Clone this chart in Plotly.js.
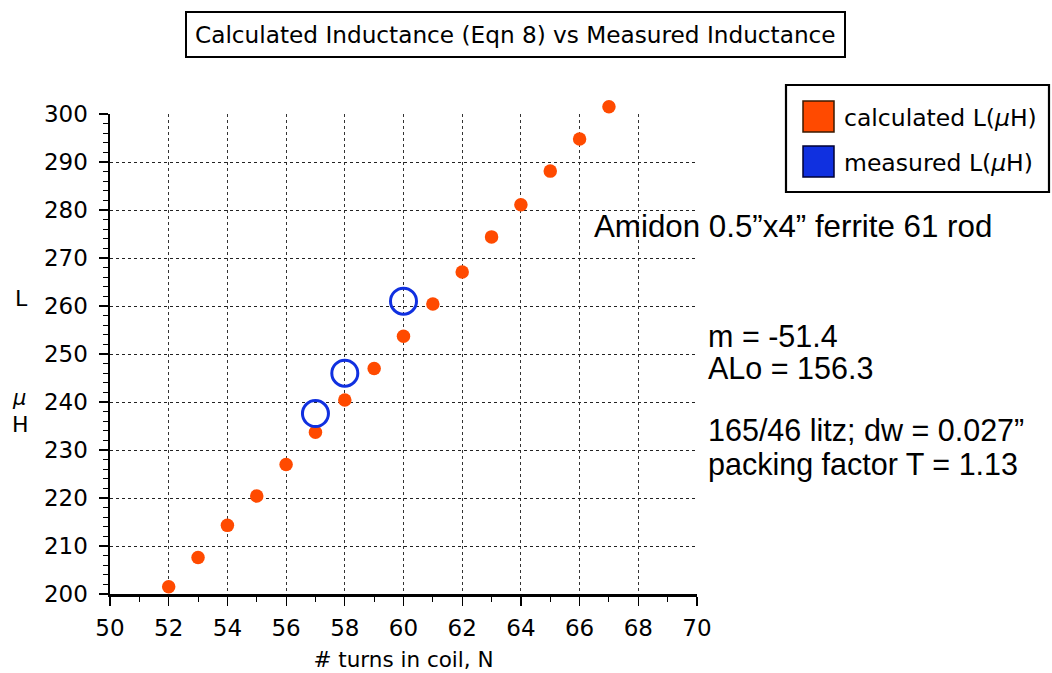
<!DOCTYPE html>
<html>
<head>
<meta charset="utf-8">
<script src="https://cdn.plot.ly/plotly-3.0.1.min.js"></script>
<style>html,body{margin:0;padding:0;background:#fff;}#chart{width:1052px;height:673px;}</style>
</head>
<body>
<div id="chart"></div>
<script>
// Data
const turns = [52,53,54,55,56,57,58,59,60,61,62,63,64,65,66,67];
const calcL = [201.5,207.6,214.3,220.4,227.0,233.7,240.4,247.0,253.7,260.4,267.1,274.4,281.1,288.1,294.8,301.5];
const measTurns = [57,58,60];
const measL = [237.6,246.0,261.0];
const xTicks = [50,52,54,56,58,60,62,64,66,68,70];
const yTicks = [200,210,220,230,240,250,260,270,280,290,300];
const legendLabels = ['calculated L(<i>μ</i>H)','measured L(<i>μ</i>H)'];
const titleText = 'Calculated Inductance (Eqn 8) vs Measured Inductance';
const noteLines = ['Amidon 0.5”x4” ferrite 61 rod','m = -51.4','ALo = 156.3','165/46 litz; dw = 0.027”','packing factor T = 1.13'];

const ORANGE = '#FF4A00';
const BLUE = '#1030E0';
const W = 1052, H = 673;
// plot frame: x 110..697, y(200)=594, y(300)=114; extra headroom above 300 for the top marker
const M = {l:110, r:355, t:84, b:79};
const PW = W - M.l - M.r, PH = H - M.t - M.b;
const px = x => (x - M.l) / PW;
const py = y => (H - M.b - y) / PH;
const yDomTop = (594 - 114) / PH;          // visible axis 200..300
const y2Top = 200 + 100 / yDomTop;          // same scale extended to full height

const traces = [
  // empty trace so the visible x/y subplot (axes + grid) is drawn
  {x: [], y: [], type:'scatter', mode:'markers', showlegend:false, hoverinfo:'skip'},
  {x: turns, y: calcL, type:'scatter', mode:'markers', name: legendLabels[0], showlegend:false, cliponaxis:false,
   xaxis:'x2', yaxis:'y2', marker:{color:ORANGE, size:13.5, line:{width:0}}},
  {x: measTurns, y: measL, type:'scatter', mode:'markers', name: legendLabels[1], showlegend:false, cliponaxis:false,
   xaxis:'x2', yaxis:'y2', marker:{symbol:'circle-open', color:BLUE, size:26, line:{width:3, color:BLUE}}}
];

const sansFam = 'DejaVu Sans, Verdana, sans-serif';
const tickFont = {family:sansFam, size:23, color:'#000'};
const noteFont = {family:'Liberation Sans, Arial, Helvetica, sans-serif', size:30.5, color:'#000'};

function note(text, x, y, size) {
  return {xref:'paper', yref:'paper', x:px(x), y:py(y), xanchor:'left', yanchor:'middle', showarrow:false,
          text:text, font: size ? Object.assign({}, noteFont, {size:size}) : noteFont};
}

const layout = {
  width: W, height: H,
  margin: M,
  paper_bgcolor:'#fff', plot_bgcolor:'rgba(0,0,0,0)',
  showlegend:false,
  xaxis:{
    domain:[0,1], anchor:'y',
    range:[50,70], tickvals: xTicks, ticktext: xTicks.map(String),
    showline:true, linecolor:'#000', linewidth:2.5,
    ticks:'outside', ticklen:9, tickwidth:1.2, tickcolor:'#000',
    minor:{dtick:1, ticks:'outside', ticklen:5, tickcolor:'#000', tickwidth:1, showgrid:false},
    showgrid:true, gridcolor:'#333', gridwidth:1, griddash:'dot',
    zeroline:false, tickfont: tickFont, ticklabelstandoff:3,
    title:{text:'# turns in coil, N', font:{family:sansFam, size:21.5, color:'#000'}, standoff:12}
  },
  yaxis:{
    domain:[0, yDomTop], anchor:'x',
    range:[200,300], tickvals: yTicks, ticktext: yTicks.map(String),
    showline:true, linecolor:'#000', linewidth:2.5,
    ticks:'outside', ticklen:9, tickwidth:1.2, tickcolor:'#000',
    minor:{dtick:2, ticks:'outside', ticklen:5, tickcolor:'#000', tickwidth:1, showgrid:false},
    showgrid:true, gridcolor:'#222', gridwidth:1, griddash:'dot',
    zeroline:false, tickfont: tickFont, ticklabelstandoff:6
  },
  xaxis2:{domain:[0,1], anchor:'y2', range:[50,70], visible:false, showgrid:false, zeroline:false},
  yaxis2:{domain:[0,1], anchor:'x2', range:[200, y2Top], visible:false, showgrid:false, zeroline:false},
  shapes:[
    {type:'rect', xref:'paper', yref:'paper', x0:px(786), x1:px(1049), y0:py(85), y1:py(192),
     line:{color:'#000', width:2.2}, fillcolor:'#fff', layer:'above'},
    {type:'rect', xref:'paper', yref:'paper', x0:px(803), x1:px(834), y0:py(101), y1:py(132),
     line:{color:'#3a1a00', width:1.5}, fillcolor:ORANGE, layer:'above'},
    {type:'rect', xref:'paper', yref:'paper', x0:px(803), x1:px(834), y0:py(146), y1:py(177),
     line:{color:'#000033', width:1.5}, fillcolor:BLUE, layer:'above'}
  ],
  annotations:[
    {xref:'paper', yref:'paper', x:px(515), y:py(35), xanchor:'center', yanchor:'middle', showarrow:false,
     text:titleText, font:{family:sansFam, size:23.2, color:'#000'},
     bordercolor:'#000', borderwidth:2, borderpad:8, bgcolor:'#fff'},
    {xref:'paper', yref:'paper', x:px(842), y:py(118), xanchor:'left', yanchor:'middle', showarrow:false,
     text:legendLabels[0], font:{family:sansFam, size:23.5, color:'#000'}},
    {xref:'paper', yref:'paper', x:px(842), y:py(163), xanchor:'left', yanchor:'middle', showarrow:false,
     text:legendLabels[1], font:{family:sansFam, size:23.5, color:'#000'}},
    note(noteLines[0], 592, 226, 31.3),
    note(noteLines[1], 706, 336),
    note(noteLines[2], 706, 368),
    note(noteLines[3], 706, 430),
    note(noteLines[4], 706, 464),
    {xref:'paper', yref:'paper', x:px(21), y:py(298), xanchor:'center', yanchor:'middle', showarrow:false,
     text:'L', font:{family:sansFam, size:22, color:'#000'}},
    {xref:'paper', yref:'paper', x:px(19), y:py(398), xanchor:'center', yanchor:'middle', showarrow:false,
     text:'<i>μ</i>', font:{family:sansFam, size:21, color:'#000'}},
    {xref:'paper', yref:'paper', x:px(20), y:py(424), xanchor:'center', yanchor:'middle', showarrow:false,
     text:'H', font:{family:sansFam, size:22, color:'#000'}}
  ]
};

Plotly.newPlot('chart', traces, layout, {displayModeBar:false, staticPlot:true});
</script>
</body>
</html>
